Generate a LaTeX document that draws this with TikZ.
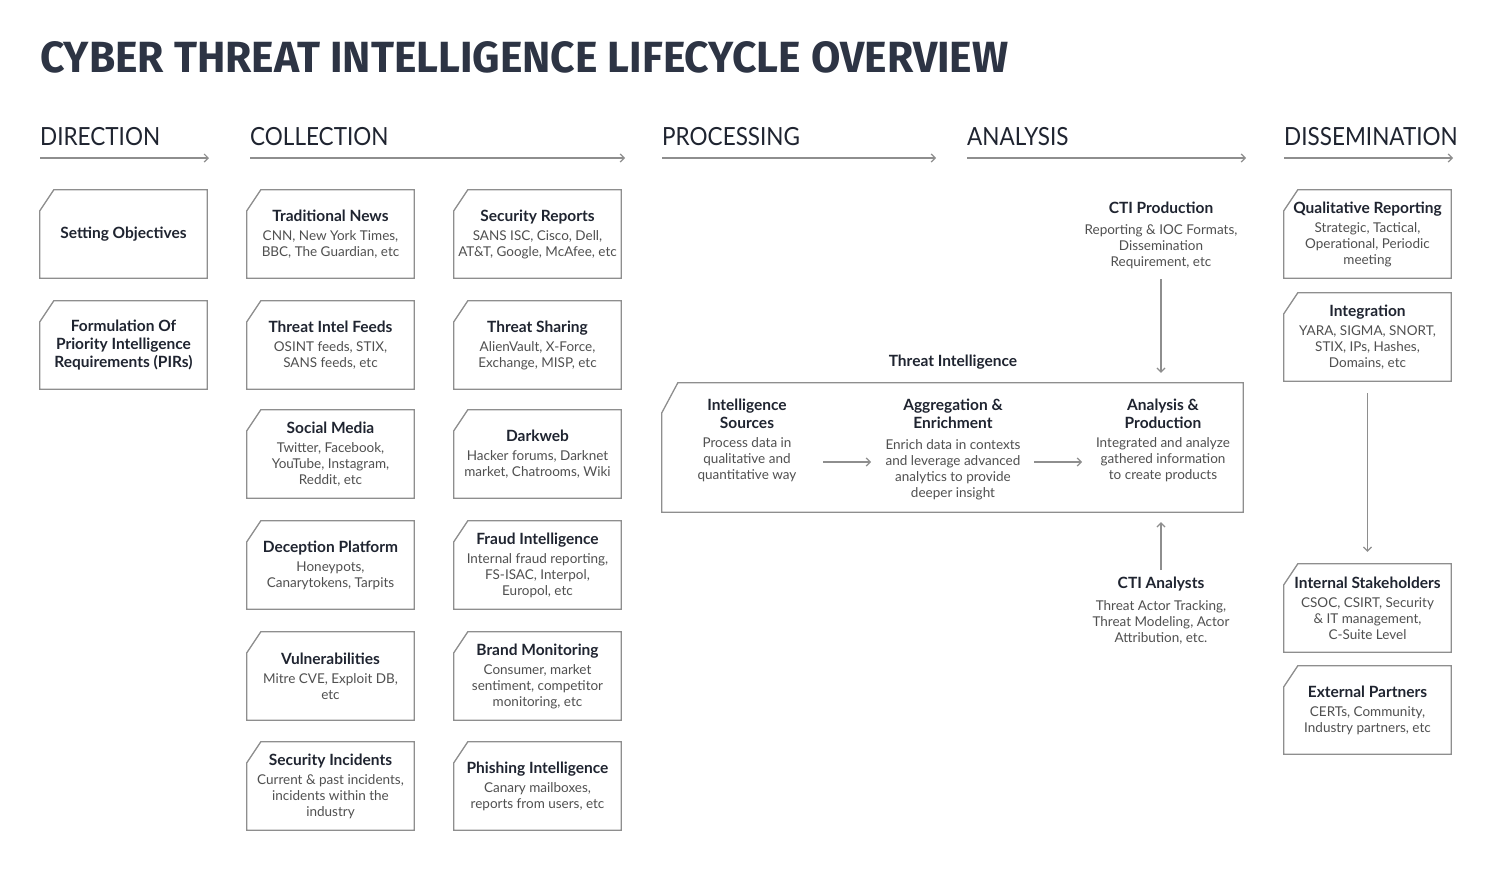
\documentclass[tikz,border=0pt]{standalone}
\usepackage{fontspec}
\usepackage{graphicx}
\usepackage{tikz}
\usetikzlibrary{arrows.meta}
\setmainfont{Lato}
\newfontfamily\titlefont{Fira Sans}
\definecolor{ink}{HTML}{1F2430}
\definecolor{titleink}{HTML}{2D3444}
\definecolor{textgray}{HTML}{505050}
\definecolor{linegray}{HTML}{8E8E8E}
\newcommand{\hd}[1]{{\fontsize{15.5}{18}\selectfont\bfseries\color{ink}#1}}

\begin{document}
\begin{tikzpicture}[x=1pt,y=-1pt,
    edge/.style={draw=linegray,line width=1.3pt},
    flow/.style={draw=linegray,line width=1.2pt,-{Straight Barb[length=4pt,width=8pt]}},
    chamfer/.style 2 args={append after command={\pgfextra{\draw[edge] ([xshift=#1]\tikzlastnode.north west) -- (\tikzlastnode.north east) -- (\tikzlastnode.south east) -- (\tikzlastnode.south west) -- ([yshift=-#2]\tikzlastnode.north west) -- cycle;}}},
    txt/.style={inner sep=0pt,align=center,font=\fontsize{13.5}{16}\selectfont,text=textgray},
    card/.style={txt,chamfer={14pt}{21pt},minimum width=167pt,minimum height=88pt},
    sect/.style={anchor=base west,inner sep=0pt,font=\fontsize{25}{30}\selectfont,text=ink}]
    \fill[white] (0,0) rectangle (1492,871);
    \useasboundingbox (0,0) rectangle (1492,871);

    \node[anchor=base west,inner sep=0pt,text=titleink] (title) at (40,72) {\resizebox{968pt}{31pt}{\titlefont\bfseries CYBER THREAT INTELLIGENCE LIFECYCLE OVERVIEW}};

    % stages
    \node[sect] (h1) at (40,145) {\scalebox{0.9}[1]{DIRECTION}};
    \node[sect] (h2) at (250,145) {\scalebox{0.9}[1]{COLLECTION}};
    \node[sect] (h3) at (662,145) {\scalebox{0.9}[1]{PROCESSING}};
    \node[sect] (h4) at (967,145) {\scalebox{0.9}[1]{ANALYSIS}};
    \node[sect] (h5) at (1284,145) {\scalebox{0.9}[1]{DISSEMINATION}};
    \coordinate (s1) at (40,158);   \coordinate (e1) at (209,158);
    \coordinate (s2) at (250,158);  \coordinate (e2) at (625,158);
    \coordinate (s3) at (662,158);  \coordinate (e3) at (936,158);
    \coordinate (s4) at (967,158);  \coordinate (e4) at (1246,158);
    \coordinate (s5) at (1284,158); \coordinate (e5) at (1453,158);
    \draw[flow] (s1) -- (e1);
    \draw[flow] (s2) -- (e2);
    \draw[flow] (s3) -- (e3);
    \draw[flow] (s4) -- (e4);
    \draw[flow] (s5) -- (e5);

    % direction
    \node[card] (d1) at (123.5,234) {\hd{Setting Objectives}};
    \node[card] (d2) at (123.5,345) {\hd{Formulation Of}\\[2pt]\hd{Priority Intelligence}\\[2pt]\hd{Requirements (PIRs)}};

    % collection
    \node[card] (c1) at (330.5,234) {\hd{Traditional News}\\[3pt]CNN, New York Times,\\BBC, The Guardian, etc};
    \node[card] (c2) at (330.5,345) {\hd{Threat Intel Feeds}\\[3pt]OSINT feeds, STIX,\\SANS feeds, etc};
    \node[card] (c3) at (330.5,454) {\hd{Social Media}\\[3pt]Twitter, Facebook,\\YouTube, Instagram,\\Reddit, etc};
    \node[card] (c4) at (330.5,565) {\hd{Deception Platform}\\[3pt]Honeypots,\\Canarytokens, Tarpits};
    \node[card] (c5) at (330.5,676) {\hd{Vulnerabilities}\\[3pt]Mitre CVE, Exploit DB,\\etc};
    \node[card] (c6) at (330.5,786) {\hd{Security Incidents}\\[3pt]Current \& past incidents,\\incidents within the\\industry};
    \node[card] (c7) at (537.5,234) {\hd{Security Reports}\\[3pt]SANS ISC, Cisco, Dell,\\AT\&T, Google, McAfee, etc};
    \node[card] (c8) at (537.5,345) {\hd{Threat Sharing}\\[3pt]AlienVault, X-Force,\\Exchange, MISP, etc};
    \node[card] (c9) at (537.5,454) {\hd{Darkweb}\\[3pt]Hacker forums, Darknet\\market, Chatrooms, Wiki};
    \node[card] (c10) at (537.5,565) {\hd{Fraud Intelligence}\\[3pt]Internal fraud reporting,\\FS-ISAC, Interpol,\\Europol, etc};
    \node[card] (c11) at (537.5,676) {\hd{Brand Monitoring}\\[3pt]Consumer, market\\sentiment, competitor\\monitoring, etc};
    \node[card] (c12) at (537.5,786) {\hd{Phishing Intelligence}\\[3pt]Canary mailboxes,\\reports from users, etc};

    % processing and analysis
    \node[txt] (tilabel) at (953,362) {\hd{Threat Intelligence}};
    \node[txt,chamfer={16pt}{30pt},minimum width=581pt,minimum height=129pt] (ti) at (952.5,447.5) {};
    \node[txt,anchor=north] (src) at (747,399) {\hd{Intelligence}\\[2pt]\hd{Sources}\\[3pt]Process data in\\qualitative and\\quantitative way};
    \node[txt,anchor=north] (agg) at (953,399) {\hd{Aggregation \&}\\[2pt]\hd{Enrichment}\\[5pt]Enrich data in contexts\\and leverage advanced\\analytics to provide\\deeper insight};
    \node[txt,anchor=north] (ana) at (1163,399) {\hd{Analysis \&}\\[2pt]\hd{Production}\\[3pt]Integrated and analyze\\gathered information\\to create products};
    \coordinate (p1) at (823,462);  \coordinate (p2) at (871,462);
    \coordinate (p3) at (1034,462); \coordinate (p4) at (1082,462);
    \draw[flow] (p1) -- (p2);
    \draw[flow] (p3) -- (p4);

    \node[txt,anchor=north] (ctiprod) at (1161,202) {\hd{CTI Production}\\[5pt]Reporting \& IOC Formats,\\Dissemination\\Requirement, etc};
    \node[txt,anchor=north] (ctian) at (1161,577) {\hd{CTI Analysts}\\[6pt]Threat Actor Tracking,\\Threat Modeling, Actor\\Attribution, etc.};
    \draw[flow] ([yshift=-10pt]ctiprod.south) -- ([yshift=10pt]ctiprod.south |- ti.north);
    \draw[flow] ([yshift=7pt]ctian.north) -- ([yshift=-10pt]ctian.north |- ti.south);

    % dissemination
    \node[card] (q1) at (1367.5,234) {\hd{Qualitative Reporting}\\[3pt]Strategic, Tactical,\\Operational, Periodic\\meeting};
    \node[card] (q2) at (1367.5,337) {\hd{Integration}\\[3pt]YARA, SIGMA, SNORT,\\STIX, IPs, Hashes,\\Domains, etc};
    \node[card] (q3) at (1367.5,608) {\hd{Internal Stakeholders}\\[3pt]CSOC, CSIRT, Security\\\& IT management,\\C-Suite Level};
    \node[card] (q4) at (1367.5,710) {\hd{External Partners}\\[3pt]CERTs, Community,\\Industry partners, etc};
    \draw[flow] ([yshift=-12pt]q2.south) -- ([yshift=12pt]q3.north);
\end{tikzpicture}
\end{document}
